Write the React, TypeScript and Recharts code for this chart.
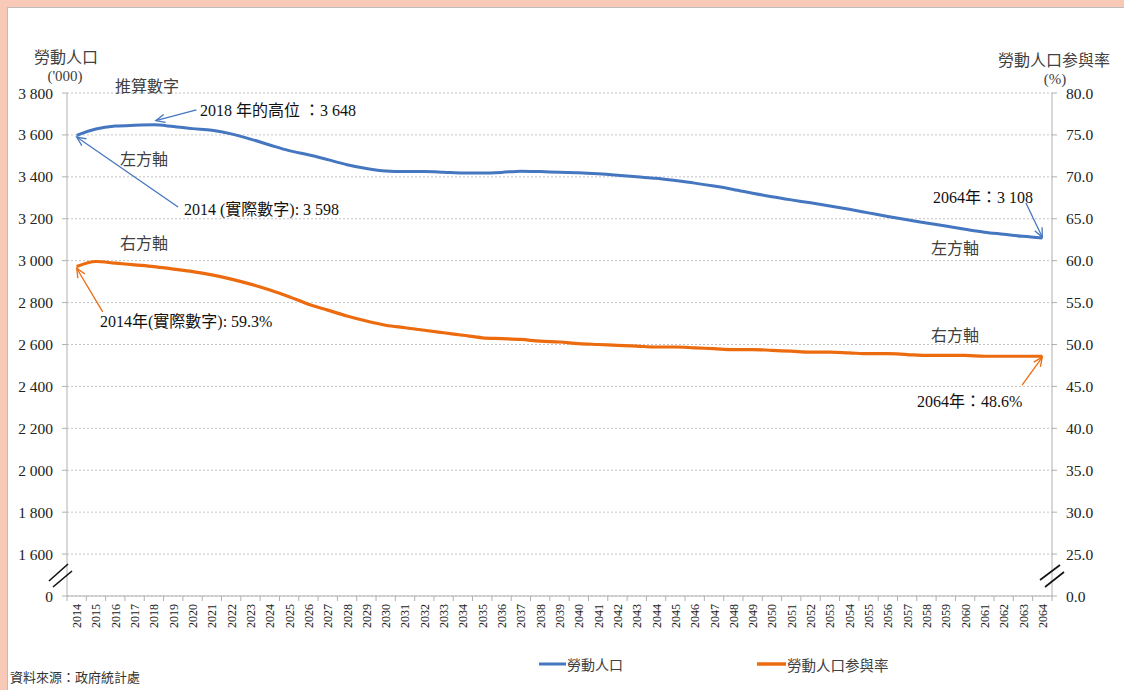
import React from 'react';
import { LineChart, Line, XAxis, YAxis, CartesianGrid, ReferenceLine } from 'recharts';

const years = [
  2014, 2015, 2016, 2017, 2018, 2019, 2020, 2021, 2022, 2023, 2024, 2025, 2026, 2027, 2028, 2029, 2030,
  2031, 2032, 2033, 2034, 2035, 2036, 2037, 2038, 2039, 2040, 2041, 2042, 2043, 2044, 2045, 2046, 2047,
  2048, 2049, 2050, 2051, 2052, 2053, 2054, 2055, 2056, 2057, 2058, 2059, 2060, 2061, 2062, 2063, 2064,
];

// 勞動人口 ('000)
const labourForce = [
  3598, 3628, 3642, 3646, 3648, 3640, 3630, 3622, 3605, 3580, 3552, 3525, 3505, 3482, 3458, 3440, 3428,
  3425, 3425, 3422, 3418, 3418, 3421, 3427, 3425, 3422, 3420, 3415, 3408, 3400, 3393, 3382, 3370, 3356,
  3340, 3322, 3305, 3290, 3276, 3261, 3245, 3228, 3211, 3195, 3180, 3165, 3150, 3136, 3126, 3116, 3108,
];

// 勞動人口參與率 (%)
const participationRate = [
  59.3, 59.9, 59.7, 59.5, 59.3, 59.0, 58.7, 58.3, 57.8, 57.2, 56.5, 55.7, 54.8, 54.1, 53.4, 52.8, 52.3,
  52.0, 51.7, 51.4, 51.1, 50.8, 50.7, 50.6, 50.4, 50.3, 50.1, 50.0, 49.9, 49.8, 49.7, 49.7, 49.6, 49.5,
  49.4, 49.4, 49.3, 49.2, 49.1, 49.1, 49.0, 48.9, 48.9, 48.8, 48.7, 48.7, 48.7, 48.6, 48.6, 48.6, 48.6,
];

const leftTicks = [1400, 1600, 1800, 2000, 2200, 2400, 2600, 2800, 3000, 3200, 3400, 3600, 3800];
const rightTicks = [20, 25, 30, 35, 40, 45, 50, 55, 60, 65, 70, 75, 80];

const data = years.map((year, i) => ({
  year,
  labour: labourForce[i],
  rate: participationRate[i],
}));

const BLUE = '#4576C0';
const ORANGE = '#EC6B0E';
const AXIS = '#B0B0B0';
const SERIF = "'Liberation Serif', 'DejaVu Serif', serif";
const SERIF_CJK = "'Liberation Serif', 'DejaVu Serif', 'Noto Sans CJK TC', serif";
const SANS = "'Noto Sans CJK TC', 'Noto Sans', sans-serif";

const W = 1124;
const H = 690;
const PLOT_LEFT = 67;
const PLOT_RIGHT = 1052;
const BAND = (PLOT_RIGHT - PLOT_LEFT) / years.length;

const fmtLeft = (v: number) => {
  if (v === 1400) return '0';
  const th = Math.floor(v / 1000);
  return `${th} ${String(v % 1000).padStart(3, '0')}`;
};
const fmtRight = (v: number) => (v === 20 ? '0.0' : v.toFixed(1));

const YearTick = (props: any) => {
  const { x, y, payload } = props;
  const half = BAND / 2;
  return (
    <g>
      <line x1={x - half} x2={x - half} y1={y - 7} y2={y - 2} stroke={AXIS} />
      {payload.value === 2064 && <line x1={x + half} x2={x + half} y1={y - 7} y2={y - 2} stroke={AXIS} />}
      <text
        transform={`translate(${x + 4.5},${y + 1}) rotate(-90)`}
        textAnchor="end"
        fontSize={12}
        style={{ fontFamily: SERIF }}
        fill="#222"
      >
        {payload.value}
      </text>
    </g>
  );
};

const arrow = (color: string) => (p: any) => {
  const { x1, y1, x2, y2 } = p;
  const ang = Math.atan2(y2 - y1, x2 - x1);
  const L = 10;
  const a = 0.42;
  const ax = x2 - L * Math.cos(ang - a);
  const ay = y2 - L * Math.sin(ang - a);
  const bx = x2 - L * Math.cos(ang + a);
  const by = y2 - L * Math.sin(ang + a);
  return (
    <g>
      <line x1={x1} y1={y1} x2={x2} y2={y2} stroke={color} strokeWidth={1.3} />
      <polyline points={`${ax},${ay} ${x2},${y2} ${bx},${by}`} fill="none" stroke={color} strokeWidth={1.3} />
    </g>
  );
};

const T = ({ x, y, children, font = SANS, size = 16, anchor = 'start', color = '#404040' }: any) => (
  <text
    x={x}
    y={y}
    fontSize={size}
    textAnchor={anchor}
    dominantBaseline="central"
    fill={color}
    style={{ fontFamily: font }}
  >
    {children}
  </text>
);

export default function App() {
  return (
    <div style={{ position: 'absolute', left: 0, top: 0, width: W, height: H, background: '#F8C9B6', overflow: 'hidden' }}>
      <div
        style={{
          position: 'absolute',
          left: 7,
          top: 7,
          width: W,
          height: H,
          background: '#fff',
          borderTop: '1px solid #BDBDBD',
          borderLeft: '1px solid #BDBDBD',
        }}
      />
      <div style={{ position: 'absolute', left: 0, top: 0 }}>
        <LineChart width={W} height={H} data={data} margin={{ top: 93, right: 12, bottom: 44, left: 7 }}>
          <CartesianGrid yAxisId="left" vertical={false} stroke="#C4C4C4" strokeDasharray="2 2" />
          <XAxis
            dataKey="year"
            type="number"
            domain={[2013.5, 2064.5]}
            ticks={years}
            interval={0}
            height={50}
            tickLine={false}
            tickSize={5}
            tickMargin={2}
            axisLine={{ stroke: AXIS }}
            tick={<YearTick />}
          />
          <YAxis
            yAxisId="left"
            width={60}
            domain={[1400, 3800]}
            ticks={leftTicks}
            interval={0}
            tickFormatter={fmtLeft}
            tickSize={5}
            tickMargin={9}
            axisLine={{ stroke: AXIS }}
            tickLine={{ stroke: AXIS }}
            tick={{ fontSize: 15.5, style: { fontFamily: SERIF }, fill: '#222' }}
          />
          <YAxis
            yAxisId="right"
            orientation="right"
            width={60}
            domain={[20, 80]}
            ticks={rightTicks}
            interval={0}
            tickFormatter={fmtRight}
            tickSize={5}
            tickMargin={9}
            axisLine={{ stroke: AXIS }}
            tickLine={{ stroke: AXIS }}
            tick={{ fontSize: 15.5, style: { fontFamily: SERIF }, fill: '#222' }}
          />
          <Line
            yAxisId="left"
            type="monotone"
            dataKey="labour"
            stroke={BLUE}
            strokeWidth={3}
            dot={false}
            isAnimationActive={false}
          />
          <Line
            yAxisId="right"
            type="monotone"
            dataKey="rate"
            stroke={ORANGE}
            strokeWidth={3.2}
            dot={false}
            isAnimationActive={false}
          />
          <ReferenceLine
            yAxisId="left"
            segment={[{ x: 2020.2, y: 3719 }, { x: 2018.1, y: 3668 }]}
            shape={arrow(BLUE)}
          />
          <ReferenceLine
            yAxisId="left"
            segment={[{ x: 2019.25, y: 3256 }, { x: 2014, y: 3590 }]}
            shape={arrow(BLUE)}
          />
          <ReferenceLine
            yAxisId="left"
            segment={[{ x: 2063.15, y: 3275 }, { x: 2064, y: 3112 }]}
            shape={arrow(BLUE)}
          />
          <ReferenceLine
            yAxisId="right"
            segment={[{ x: 2015.35, y: 53.9 }, { x: 2014, y: 59.1 }]}
            shape={arrow(ORANGE)}
          />
          <ReferenceLine
            yAxisId="right"
            segment={[{ x: 2062.95, y: 45.15 }, { x: 2064, y: 48.5 }]}
            shape={arrow(ORANGE)}
          />
        </LineChart>
      </div>
      <svg width={W} height={H} style={{ position: 'absolute', left: 0, top: 0, pointerEvents: 'none' }}>
        {/* axis titles */}
        <T x={66} y={55.5} anchor="middle">勞動人口</T>
        <T x={65} y={76} anchor="middle" font={SERIF} size={15}>('000)</T>
        <T x={1054} y={58.5} anchor="middle">勞動人口参與率</T>
        <T x={1055} y={79} anchor="middle" font={SERIF} size={15}>(%)</T>

        {/* annotations */}
        <T x={115} y={84.5}>推算數字</T>
        <T x={200} y={110} font={SERIF_CJK} color="#111">2018 年的高位 ：3 648</T>
        <T x={120} y={157.5}>左方軸</T>
        <T x={184} y={209} font={SERIF_CJK} color="#111">2014 (實際數字): 3 598</T>
        <T x={120} y={242}>右方軸</T>
        <T x={100} y={321} font={SERIF_CJK} color="#111">2014年(實際數字): 59.3%</T>
        <T x={933} y={197.5} font={SERIF_CJK} color="#111">2064年：3 108</T>
        <T x={931} y={247}>左方軸</T>
        <T x={931} y={334}>右方軸</T>
        <T x={917} y={401} font={SERIF_CJK} color="#111">2064年：48.6%</T>

        {/* axis break marks */}
        <g stroke="#111" strokeWidth={1.6}>
          <line x1={49} y1={581} x2={68} y2={564} />
          <line x1={53} y1={587} x2={72} y2={571} />
          <line x1={1040} y1={580} x2={1060} y2={565} />
          <line x1={1045} y1={587} x2={1064} y2={572} />
        </g>

        {/* legend */}
        <line x1={539} y1={664} x2={566} y2={664} stroke={BLUE} strokeWidth={3} />
        <T x={567} y={664} size={14}>勞動人口</T>
        <line x1={757} y1={664} x2={786} y2={664} stroke={ORANGE} strokeWidth={3.5} />
        <T x={787} y={664} size={14.5}>勞動人口参與率</T>

        {/* source */}
        <T x={10} y={676} size={13} color="#333">資料來源：政府統計處</T>
      </svg>
    </div>
  );
}
